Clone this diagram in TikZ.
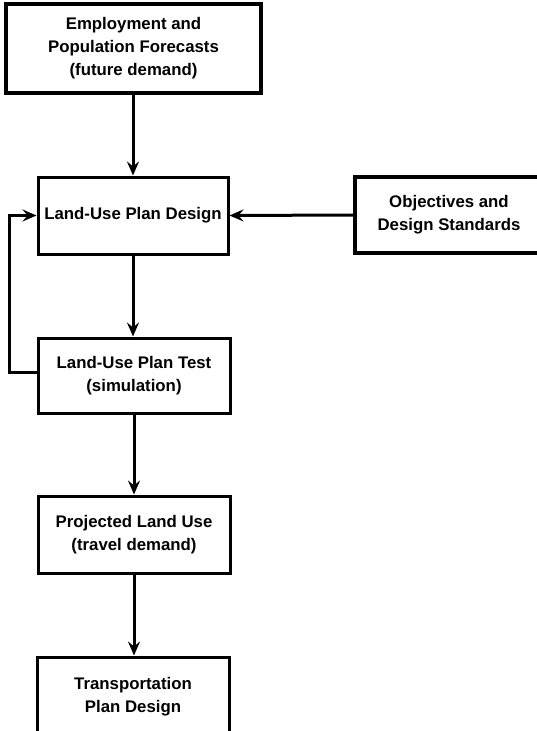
\documentclass[tikz,border=0pt]{standalone}
\usepackage{fontspec}
\setmainfont{Liberation Sans}
\usetikzlibrary{arrows.meta}
\begin{document}
\begin{tikzpicture}[x=1pt,y=-1pt,
  box/.style={draw, line width=3pt, rectangle, align=center, inner sep=0pt,
    font=\bfseries\fontsize{16.8}{23}\selectfont},
  heavybox/.style={box, line width=4.2pt},
  arr/.style={line width=3pt, -{Stealth[length=14pt,width=12pt,inset=5pt]}}]
  \clip (0,0) rectangle (537,731);
  \fill[white] (0,0) rectangle (537,731);

  % boxes of the design chain
  \node[heavybox, minimum width=255pt, minimum height=89pt] (emp) at (133.5,48.5)
    {Employment and\\Population Forecasts\\(future demand)};
  \node[box, minimum width=190pt, minimum height=77pt] (design) at (133,215.5)
    {Land-Use Plan Design};
  \node[heavybox, minimum width=188pt, minimum height=76pt] (obj) at (449,215)
    {Objectives and\\Design Standards};
  \node[box, minimum width=192pt, minimum height=75pt] (test) at (134,375.5)
    {Land-Use Plan Test\\(simulation)};
  \node[box, minimum width=192pt, minimum height=77pt] (proj) at (134,534.5)
    {Projected Land Use\\(travel demand)};
  \node[box, minimum width=192pt, minimum height=79pt] (trans) at (133,696.5)
    {Transportation\\Plan Design};

  % connectors
  \draw[arr] (emp.south -| design.north) -- (design.north);
  \draw[arr] (obj.west) -- (design.east);
  \draw[arr] (design.south) -- (design.south |- test.north);
  \draw[arr] (test.south) -- (test.south |- proj.north);
  \draw[arr] (proj.south) -- (proj.south |- trans.north);

  % feedback from the test back to the design
  \coordinate (loop) at (9,372);
  \draw[arr] (test.west |- loop) -- (loop) |- (design.west);
\end{tikzpicture}
\end{document}
